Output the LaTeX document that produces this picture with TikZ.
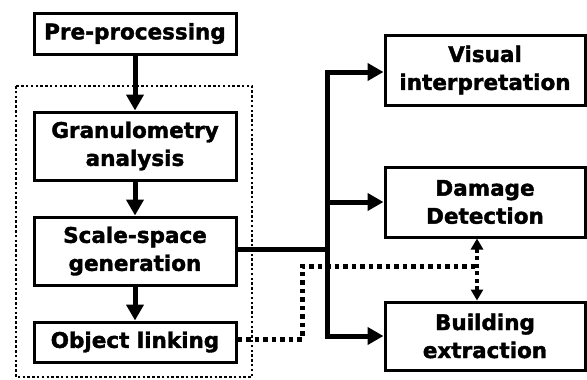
\documentclass[tikz,border=0pt]{standalone}
\usepackage{fontspec}
\setmainfont{DejaVu Sans}[BoldFeatures={FakeBold=1.8}]
\usetikzlibrary{arrows.meta}
\begin{document}
\begin{tikzpicture}[x=1pt,y=-1pt,
  box/.style={draw, line width=3pt, align=center, inner sep=0pt,
    font=\fontsize{21.5}{28}\selectfont\bfseries},
  flow/.style={line width=5pt, -{Triangle[length=16pt,width=17pt]}},
  trunk/.style={line width=5pt},
  link/.style={line width=5pt, dash pattern=on 4.5pt off 4pt},
  linkarrow/.style={line width=4.5pt, dash pattern=on 4pt off 3.5pt,
    {Triangle[length=11pt,width=12pt]}-{Triangle[length=11pt,width=12pt]}},
  group/.style={line width=2.8pt, dash pattern=on 2.5pt off 2.3pt}
]
\useasboundingbox (0,0) rectangle (587,380);

% dotted group around the core steps
\draw[group] (16,86) rectangle (252,377);

% processing chain
\node[box, minimum width=202pt, minimum height=41pt] (pre) at (135,33.5) {Pre-processing};
\node[box, minimum width=202pt, minimum height=68pt] (gran) at (135,146) {Granulometry\\analysis};
\node[box, minimum width=202pt, minimum height=68pt] (scale) at (135,251) {Scale-space\\generation};
\node[box, minimum width=202pt, minimum height=40pt] (obj) at (135,342) {Object linking};

% applications
\node[box, minimum width=200pt, minimum height=70pt] (vis) at (485,70) {Visual\\interpretation};
\node[box, minimum width=200pt, minimum height=70pt] (dam) at (485,202) {Damage\\Detection};
\node[box, minimum width=200pt, minimum height=68pt] (bld) at (485,336) {Building\\extraction};

\draw[flow] (pre) -- (gran);
\draw[flow] (gran) -- (scale);
\draw[flow] (scale) -- (obj);

% branching trunk from the scale-space step
\coordinate (jn) at (327,249);
\coordinate (tt) at (327,72);
\coordinate (tb) at (327,336);
\draw[trunk] (scale.east |- jn) -- (jn);
\draw[trunk, line cap=rect] (tt) -- (tb);
\draw[flow] (tt) -- (tt -| vis.west);
\draw[flow] (327,202) -- (dam.west);
\draw[flow] (tb) -- (tb -| bld.west);

% dotted link from object linking to the detection/extraction pair
\coordinate (lk) at (477,266);
\draw[linkarrow] (dam.south -| lk) -- (bld.north -| lk);
\draw[link] (obj.east |- 0,339) -- (302,339) -- (302,266) -- (lk);
\end{tikzpicture}
\end{document}
